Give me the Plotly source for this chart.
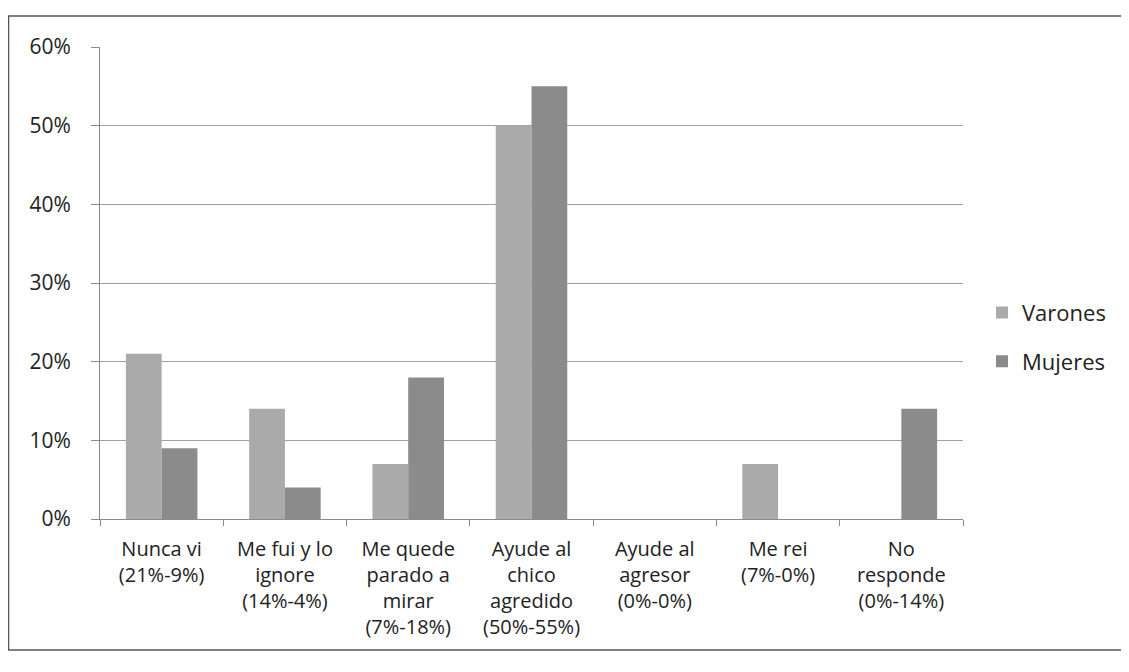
import plotly.graph_objects as go

## ----------- data ----------- ##
CATEGORIES = [
    "Nunca vi<br>(21%-9%)",
    "Me fui y lo<br>ignore<br>(14%-4%)",
    "Me quede<br>parado a<br>mirar<br>(7%-18%)",
    "Ayude al<br>chico<br>agredido<br>(50%-55%)",
    "Ayude al<br>agresor<br>(0%-0%)",
    "Me rei<br>(7%-0%)",
    "No<br>responde<br>(0%-14%)",
]
VARONES = [0.21, 0.14, 0.07, 0.50, 0.0, 0.07, 0.0]
MUJERES = [0.09, 0.04, 0.18, 0.55, 0.0, 0.0, 0.14]
Y_TICKS = [0, 0.1, 0.2, 0.3, 0.4, 0.5, 0.6]

FONT = "Open Sans"
TXT = "#222222"

fig = go.Figure()

fig.add_trace(go.Bar(
    x=CATEGORIES, y=VARONES, name="Varones", legendgroup="v",
    marker=dict(color="#aaaaaa", line=dict(width=0)),
))
fig.add_trace(go.Bar(
    x=CATEGORIES, y=MUJERES, name="Mujeres", legendgroup="m",
    marker=dict(color="#8b8b8b", line=dict(width=0)),
))

fig.update_layout(
    width=1129, height=672,
    margin=dict(l=92, r=174, t=39, b=161),
    paper_bgcolor="white", plot_bgcolor="white",
    font=dict(family=FONT, size=20, color=TXT),
    barmode="group", bargap=0.42, bargroupgap=0,
    showlegend=True,
    legend=dict(x=1.022, y=0.385, yanchor="middle", xanchor="left",
                traceorder="grouped", tracegroupgap=17,
                font=dict(family=FONT, size=22, color=TXT),
                itemwidth=30),
    xaxis=dict(showline=True, linecolor="#8a8a8a", linewidth=1,
               ticks="outside", tickson="boundaries", ticklen=6, tickcolor="#8a8a8a",
               ticklabelstandoff=12,
               tickfont=dict(family=FONT, size=20, color=TXT), tickangle=0),
    yaxis=dict(range=[0, 0.6], tickvals=Y_TICKS, tickformat=".0%",
               showline=True, linecolor="#8a8a8a", linewidth=1,
               ticks="outside", ticklen=8, tickcolor="#8a8a8a",
               ticklabelstandoff=16,
               showgrid=True, gridcolor="#a0a0a0", gridwidth=1,
               zeroline=False,
               tickfont=dict(family=FONT, size=21, color=TXT)),
    shapes=[dict(type="rect", xref="paper", yref="paper",
                 x0=-0.106, x1=1.184, y0=-0.2775, y1=1.0657,
                 line=dict(color="#555555", width=1.5), layer="below")],
)

fig.write_html("out.html")
